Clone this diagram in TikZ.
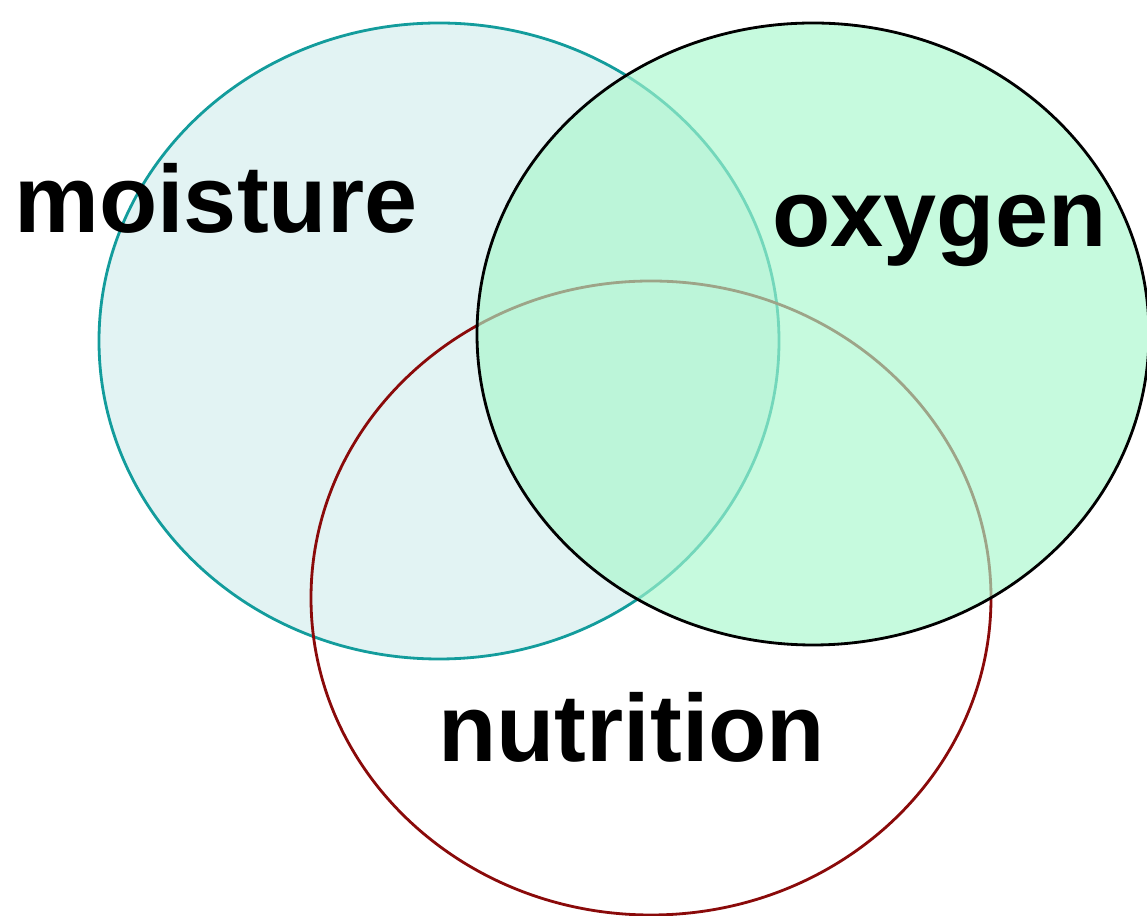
\documentclass[tikz,border=0pt]{standalone}
\usepackage{xcolor}
\usepackage{tikz}
\usepackage{fontspec}
\setmainfont{Liberation Sans}
\usetikzlibrary{positioning}
\definecolor{Teal}{HTML}{139C9C}
\definecolor{TealFill}{HTML}{E2F3F3}
\definecolor{Wine}{HTML}{8A0A0A}
\definecolor{Mint}{HTML}{A8F7CC}
\tikzset{
  setring/.style={line width=1.6pt},
  setlabel/.style={font=\fontsize{54.3}{60}\selectfont\bfseries, inner sep=0pt, anchor=base west},
}

\begin{document}
\begin{tikzpicture}[x=0.02cm,y=0.02cm]
\path[use as bounding box] (0,0) rectangle (1147,916);
\clip (0,0) rectangle (1147,916);

% three sets
\draw[setring,draw=Teal,fill=TealFill] (439,575) ellipse [x radius=340,y radius=318];
\draw[setring,draw=Wine] (651,318) ellipse [x radius=340,y radius=317];
\draw[setring,draw=black,fill=Mint,fill opacity=0.65] (813,582) ellipse [x radius=336,y radius=311];

% labels
\node[setlabel] (moisture) at (14,683) {moisture};
\node[setlabel] (oxygen) at (772,669) {oxygen};
\node[setlabel] (nutrition) at (438,154) {nutrition};
\end{tikzpicture}
\end{document}
